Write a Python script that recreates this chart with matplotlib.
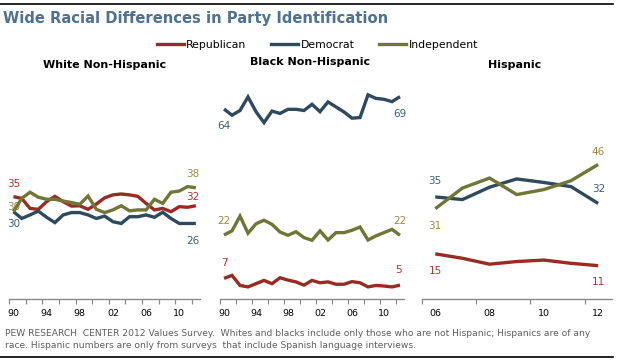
import matplotlib
matplotlib.use('Agg')
import matplotlib.pyplot as plt
from matplotlib.lines import Line2D

# ---------------- data ----------------
years_long = list(range(1990, 2013))
white_rep = [34.7, 34.1, 30.7, 30.4, 33.0, 34.8, 33.0, 31.5, 31.6, 30.4, 32.2, 34.3,
             35.3, 35.6, 35.3, 34.8, 32.4, 30.2, 30.7, 29.6, 31.3, 31.1, 31.6]
white_dem = [29.6, 27.3, 28.5, 29.8, 27.7, 25.9, 28.5, 29.3, 29.3, 28.5, 27.3, 28.1,
             26.2, 25.6, 27.9, 27.9, 28.5, 27.7, 29.4, 27.3, 25.6, 25.6, 25.6]
white_ind = [29.6, 34.1, 36.2, 34.5, 33.8, 33.8, 33.2, 32.7, 32.1, 34.9, 30.4, 29.3,
             30.2, 31.6, 29.9, 30.2, 30.2, 33.8, 32.4, 36.2, 36.6, 38.1, 37.7]

black_rep = [7.0, 8.0, 4.6, 4.1, 5.2, 6.3, 5.2, 7.2, 6.4, 5.8, 4.7, 6.3,
             5.5, 5.8, 5.0, 5.0, 5.9, 5.5, 4.1, 4.6, 4.4, 4.1, 4.7]
black_dem = [64.4, 62.3, 63.9, 68.5, 63.5, 59.8, 63.7, 62.9, 64.3, 64.3, 63.9, 66.0,
             63.5, 66.8, 65.1, 63.4, 61.3, 61.5, 69.2, 68.0, 67.7, 66.9, 68.6]
black_ind = [21.7, 23.1, 28.1, 22.3, 25.5, 26.7, 25.3, 22.7, 21.6, 22.8, 20.8, 19.9,
             23.1, 20.0, 22.5, 22.5, 23.3, 24.4, 20.0, 21.4, 22.5, 23.6, 21.6]

years_hisp = list(range(2006, 2013))
hisp_rep = [15.3, 13.8, 11.8, 12.7, 13.2, 12.1, 11.3]
hisp_dem = [34.6, 33.7, 37.9, 40.7, 39.5, 38.1, 32.4]
hisp_ind = [30.6, 37.6, 41.0, 35.4, 37.1, 40.1, 45.6]

long_tick_labels = ['90', '94', '98', '02', '06', '10']
hisp_tick_labels = ['06', '08', '10', '12']

series_names = ['Republican', 'Democrat', 'Independent']
panel_titles = ['White Non-Hispanic', 'Black Non-Hispanic', 'Hispanic']
title = 'Wide Racial Differences in Party Identification'
footer1 = ('PEW RESEARCH  CENTER 2012 Values Survey.  Whites and blacks include only '
           'those who are not Hispanic; Hispanics are of any')
footer2 = ('race. Hispanic numbers are only from surveys  that include Spanish '
           'language interviews.')

# ---------------- style ----------------
line_colors = {'Republican': '#982b22', 'Democrat': '#2e4a5d', 'Independent': '#6f7636'}
label_colors = {'Republican': '#b0352d', 'Democrat': '#3d5c78', 'Independent': '#9c8a40'}
FONT = 'DejaVu Sans'
plt.rcParams['font.family'] = [FONT]

W, H = 620, 364
fig = plt.figure(figsize=(W / 100, H / 100), dpi=100)
fig.patch.set_facecolor('white')

def rect(x0, x1, ybot, ytop):
    return [x0 / W, 1 - ybot / H, (x1 - x0) / W, (ybot - ytop) / H]

YMAX = 75
YBOT = 299.0
YTOP = YBOT - YMAX * 2.95

panels = [
    dict(rect=rect(9.3, 200.0, YBOT, YTOP), x=years_long, xlim=(1990, 2013),
         series={'Republican': white_rep, 'Democrat': white_dem, 'Independent': white_ind},
         major=list(range(1990, 2013, 2)), labpos=[y + 0.5 for y in range(1990, 2013, 4)],
         labels=long_tick_labels,
         start_off={'Republican': (0.5, 13), 'Democrat': (0.5, -12.6), 'Independent': (0.5, 5)},
         end_off={'Republican': (-3, 9), 'Democrat': (-3, -17.5), 'Independent': (-3, 13.5)},
         tpos=(105, 65)),
    dict(rect=rect(220.0, 404.0, YBOT, YTOP), x=years_long, xlim=(1990, 2013),
         series={'Republican': black_rep, 'Democrat': black_dem, 'Independent': black_ind},
         major=list(range(1990, 2013, 2)), labpos=[y + 0.5 for y in range(1990, 2013, 4)],
         labels=long_tick_labels,
         start_off={'Republican': (0, 15), 'Democrat': (0, -17), 'Independent': (0, 14)},
         end_off={'Republican': (-1, 15), 'Democrat': (0, -17), 'Independent': (0, 14)},
         tpos=(310, 62)),
    dict(rect=rect(421.7, 611.7, YBOT, YTOP), x=years_hisp, xlim=(2006, 2013),
         series={'Republican': hisp_rep, 'Democrat': hisp_dem, 'Independent': hisp_ind},
         major=list(range(2006, 2013, 2)), labpos=[y + 0.5 for y in range(2006, 2013, 2)],
         labels=hisp_tick_labels,
         start_off={'Republican': (0, -17), 'Democrat': (0, 15.5), 'Independent': (0, -17)},
         end_off={'Republican': (0, -16), 'Democrat': (1, 14.4), 'Independent': (0, 12)},
         tpos=(515, 65)),
]

PX = 0.72  # points per pixel

for p, ptitle in zip(panels, panel_titles):
    ax = fig.add_axes(p['rect'])
    ax.set_xlim(*p['xlim'])
    ax.set_ylim(0, YMAX)
    ax.patch.set_alpha(0)
    for s in ['top', 'right', 'left']:
        ax.spines[s].set_visible(False)
    ax.spines['bottom'].set_color('#8a8a8a')
    ax.spines['bottom'].set_linewidth(1.0)
    ax.set_yticks([])
    xs = [y + 0.5 for y in p['x']]
    for name in series_names:
        vals = p['series'][name]
        ax.plot(xs, vals, color=line_colors[name], lw=2.4, solid_joinstyle='miter',
                solid_capstyle='butt', zorder=3, clip_on=False)
        dx, dy = p['start_off'][name]
        ax.annotate(f"{vals[0]:.0f}", (xs[0], vals[0]), xytext=(dx * PX, dy * PX),
                    textcoords='offset points', ha='center', va='center',
                    fontsize=7.5, color=label_colors[name], zorder=1)
        dx, dy = p['end_off'][name]
        ax.annotate(f"{vals[-1]:.0f}", (xs[-1], vals[-1]), xytext=(dx * PX, dy * PX),
                    textcoords='offset points', ha='center', va='center',
                    fontsize=7.5, color=label_colors[name], zorder=1)
    ax.set_xticks(p['major'])
    ax.set_xticklabels([])
    ax.tick_params(axis='x', which='major', length=3.3, width=0.9, color='#8a8a8a',
                   direction='out')
    ax.set_xticks(p['labpos'], minor=True)
    ax.set_xticklabels(p['labels'], minor=True)
    ax.tick_params(axis='x', which='minor', length=0, pad=7.0, labelsize=6.8,
                   labelcolor='black')
    fig.text(p['tpos'][0] / W, 1 - p['tpos'][1] / H, ptitle, ha='center', va='center',
             fontsize=8, fontweight='bold', color='black')

# title
fig.text(3 / W, 1 - 19 / H, title, ha='left', va='center', fontsize=10.6,
         fontweight='bold', color='#4f7192')

# legend
handles = [Line2D([0], [0], color=line_colors[n], lw=2.4) for n in series_names]
fig.legend(handles, series_names, loc='center', bbox_to_anchor=(317.5 / W, 1 - 45 / H),
           ncol=3, frameon=False, fontsize=7.8, handlelength=2.5, handletextpad=0.2,
           columnspacing=2.3, borderpad=0, borderaxespad=0)

# footer
fig.text(5 / W, 1 - 333 / H, footer1, ha='left', va='center', fontsize=6.6, color='#5e5e5e')
fig.text(5 / W, 1 - 345 / H, footer2, ha='left', va='center', fontsize=6.6, color='#5e5e5e')

# rules
fig.add_artist(Line2D([0, 613 / W], [1 - 3.5 / H] * 2, color='black', lw=1.2))
fig.add_artist(Line2D([0, 613 / W], [1 - 357 / H] * 2, color='black', lw=1.2))

fig.savefig('out.png', dpi=100, facecolor='white')
